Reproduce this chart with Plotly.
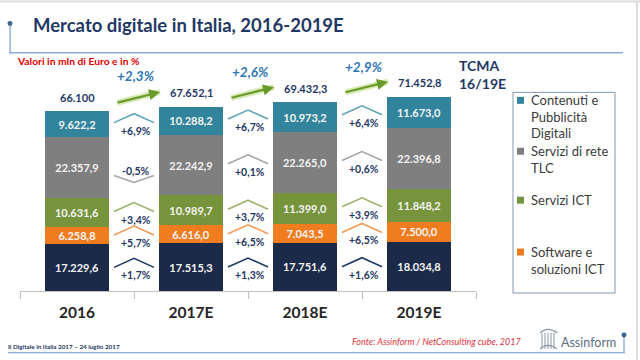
import plotly.graph_objects as go

# ---------------- data ----------------
years = ["2016", "2017E", "2018E", "2019E"]
dispositivi = [17229.6, 17515.3, 17751.6, 18034.8]
software = [6258.8, 6616.0, 7043.5, 7500.0]
servizi_ict = [10631.6, 10989.7, 11399.0, 11848.2]
servizi_tlc = [22357.9, 22242.9, 22265.0, 22396.8]
contenuti = [9622.2, 10288.2, 10973.2, 11673.0]
totals = [66100.0, 67652.1, 69432.3, 71452.8]
total_labels = ["66.100", "67.652,1", "69.432,3", "71.452,8"]
yoy_total = ["+2,3%", "+2,6%", "+2,9%"]
yoy_dispositivi = ["+1,7%", "+1,3%", "+1,6%"]
yoy_software = ["+5,7%", "+6,5%", "+6,5%"]
yoy_ict = ["+3,4%", "+3,7%", "+3,9%"]
yoy_tlc = ["-0,5%", "+0,1%", "+0,6%"]
yoy_contenuti = ["+6,9%", "+6,7%", "+6,4%"]
tcma_dispositivi = "+1,5%"
tcma_software = "+6,2%"
tcma_ict = "+3,7%"
tcma_tlc = "+0,1%"
tcma_contenuti = "+6,7%"
legend_lines = [["Contenuti e", "Pubblicità", "Digitali"], ["Servizi di rete", "TLC"],
                ["Servizi ICT"], ["Software e", "soluzioni ICT"]]

# ---------------- styling ----------------
FONT = "Lato"
NAVY_TXT = "#1F3864"
series = [  # bottom -> top
    dict(name="Dispositivi e sistemi", vals=dispositivi, color="#1B2A48", chev="#1F3864",
         yoy=yoy_dispositivi, tcma=tcma_dispositivi, tcol="#1F3864"),
    dict(name="Software e soluzioni ICT", vals=software, color="#EF7D1F", chev="#F29B55",
         yoy=yoy_software, tcma=tcma_software, tcol="#E46C0A"),
    dict(name="Servizi ICT", vals=servizi_ict, color="#77933C", chev="#9BB46A",
         yoy=yoy_ict, tcma=tcma_ict, tcol="#4F6228"),
    dict(name="Servizi di rete TLC", vals=servizi_tlc, color="#7F7F7F", chev="#A6A6A6",
         yoy=yoy_tlc, tcma=tcma_tlc, tcol="#8C8C8C"),
    dict(name="Contenuti e Pubblicità Digitali", vals=contenuti, color="#31849B", chev="#5FA5B8",
         yoy=yoy_contenuti, tcma=tcma_contenuti, tcol="#31859C"),
]

W, H = 640, 360
ML, MR, MB = 20, 164, 69
PXU = 218 / 80000          # pixels per data unit
YMAX = 100000
PH = YMAX * PXU
MT = H - MB - PH
PW = W - ML - MR
U = 1 / PXU                # data units per pixel (vertical)
CU = 4 / PW                # category units per pixel (horizontal)


def it(v):
    s = f"{v:,.1f}"
    return s.replace(",", "X").replace(".", ",").replace("X", ".")


def pxx(p):
    return (p - ML) / PW


def pxy(p):
    return (H - MB - p) / PH


xs = list(range(len(years)))
fig = go.Figure()

for s in series:
    fig.add_trace(go.Bar(
        x=xs, y=s["vals"], name=s["name"], marker=dict(color=s["color"], line=dict(width=0)),
        width=0.57, text=[it(v) for v in s["vals"]], textposition="inside",
        insidetextanchor="middle", textangle=0,
        textfont=dict(family=FONT, size=11, color="#F4F4F4", weight="bold"),
        hoverinfo="skip", showlegend=False))

# segment midpoints
cum = [0.0] * len(years)
for s in series:
    s["mid"] = [cum[i] + v / 2 for i, v in enumerate(s["vals"])]
    cum = [cum[i] + v for i, v in enumerate(s["vals"])]

annotations = []
# chevrons + yoy labels between bars
for g in range(len(years) - 1):
    gx = g + 0.5
    for s in series:
        mid = (s["mid"][g] + s["mid"][g + 1]) / 2
        lab = s["yoy"][g]
        hw = 20 * CU
        if lab.startswith("-"):
            ys_ = [mid - 9 * U, mid - 16 * U, mid - 9 * U]
            ly = mid - 4 * U
        else:
            ys_ = [mid + 0 * U, mid + 9 * U, mid + 0 * U]
            ly = mid - 8 * U
        fig.add_trace(go.Scatter(x=[gx - hw, gx, gx + hw], y=ys_, mode="lines",
                                 line=dict(color=s["chev"], width=1.6),
                                 hoverinfo="skip", showlegend=False))
        annotations.append(dict(x=gx + 0.02, y=ly, xref="x", yref="y", text=f"<b>{lab}</b>",
                                showarrow=False, font=dict(family=FONT, size=10.5, color=NAVY_TXT)))

# totals above bars
for i, t in enumerate(totals):
    annotations.append(dict(x=i, y=t, xref="x", yref="y", text=f"<b>{total_labels[i]}</b>",
                            showarrow=False, yshift=14,
                            font=dict(family=FONT, size=11, color=NAVY_TXT)))

# growth arrows
for g in range(len(years) - 1):
    hx = g + 0.5 + 26 * CU
    hy = totals[g + 1] + 15 * U
    for col, wd, head in [("rgba(170,210,90,0.45)", 6, 0), ("#6A9A2A", 2.2, 2)]:
        annotations.append(dict(x=hx, y=hy, xref="x", yref="y", ax=-44, ay=11, text="",
                                showarrow=True, arrowhead=head, arrowsize=1,
                                arrowwidth=wd, arrowcolor=col, standoff=0))
    annotations.append(dict(x=g + 0.52, y=totals[g] + 35.5 * U, xref="x", yref="y",
                            text=f"<b><i>{yoy_total[g]}</i></b>", showarrow=False,
                            borderpad=0,
                            font=dict(family=FONT, size=13.5, color="#2E75B6")))

# TCMA column
annotations.append(dict(x=pxx(457), y=pxy(74), xref="paper", yref="paper", xanchor="left",
                        yanchor="middle", align="left", text="<b>TCMA<br>16/19E</b>",
                        showarrow=False, font=dict(family=FONT, size=14, color=NAVY_TXT)))
for s in series:
    annotations.append(dict(x=3.54, y=s["mid"][-1], xref="x", yref="y",
                            text=f"<b>{s['tcma']}</b>", showarrow=False,
                            font=dict(family=FONT, size=13, color=s["tcol"])))

# manual legend
shapes = []
shapes.append(dict(type="rect", xref="paper", yref="paper", x0=pxx(513), x1=pxx(615),
                   y0=pxy(293), y1=pxy(92), line=dict(color="#8497B0", width=1),
                   fillcolor="rgba(0,0,0,0)"))
leg_series = [series[4], series[3], series[2], series[1]]
leg_y = [100, 151, 200, 252]
for s, lines, yy in zip(leg_series, legend_lines, leg_y):
    shapes.append(dict(type="rect", xref="paper", yref="paper", x0=pxx(517), x1=pxx(524),
                       y0=pxy(yy + 3.5), y1=pxy(yy - 3.5), line=dict(width=0),
                       fillcolor=s["color"]))
    for k, ln in enumerate(lines):
        annotations.append(dict(x=pxx(529), y=pxy(yy + 16.5 * k), xref="paper", yref="paper",
                                xanchor="left", yanchor="middle", align="left", text=ln,
                                showarrow=False,
                                font=dict(family=FONT, size=13, color="#3B3B3B")))

# title & decorations
annotations.append(dict(x=pxx(31), y=pxy(25), xref="paper", yref="paper", xanchor="left",
                        yanchor="middle", text="<b>Mercato digitale in Italia, 2016-2019E</b>",
                        showarrow=False, font=dict(family=FONT, size=18.5, color=NAVY_TXT)))
annotations.append(dict(x=pxx(16), y=pxy(61), xref="paper", yref="paper", xanchor="left",
                        yanchor="middle", text="<b>Valori in mln di Euro e in %</b>",
                        showarrow=False, borderpad=0,
                        font=dict(family=FONT, size=10.3, color="#E00000")))
annotations.append(dict(x=pxx(6), y=pxy(347), xref="paper", yref="paper", xanchor="left",
                        yanchor="middle", text="<b>Il Digitale in Italia 2017 – 24 luglio 2017</b>",
                        showarrow=False, font=dict(family=FONT, size=6.3, color=NAVY_TXT)))
annotations.append(dict(x=pxx(523), y=pxy(342), xref="paper", yref="paper", xanchor="right",
                        yanchor="middle", text="<i>Fonte: Assinform / NetConsulting cube, 2017</i>",
                        showarrow=False, font=dict(family=FONT, size=9, color="#E0323C")))
annotations.append(dict(x=pxx(559), y=pxy(343), xref="paper", yref="paper", xanchor="left",
                        yanchor="middle", text="Assinform",
                        showarrow=False, font=dict(family=FONT, size=12.5, color="#5B6F82")))

LINE = "#8EAADB"
# decorative bracket lines drawn as thin filled rects (x0, y0, x1, y1 in pixels)
deco = [
    (9.4, 23, 10.8, 53), (9.4, 51.6, 623, 53),
    (8, 352, 624.7, 353.4), (623.3, 336, 624.7, 353.4),
]
for x0, y0, x1, y1 in deco:
    shapes.append(dict(type="rect", xref="paper", yref="paper", x0=pxx(x0), y0=pxy(y1),
                       x1=pxx(x1), y1=pxy(y0), fillcolor=LINE, line=dict(width=0)))
for cx, cy in [(10, 23), (624, 335)]:
    shapes.append(dict(type="circle", xref="paper", yref="paper", x0=pxx(cx - 2.5),
                       x1=pxx(cx + 2.5), y0=pxy(cy + 2.5), y1=pxy(cy - 2.5),
                       fillcolor="#3E6690", line=dict(width=0)))
# slide border
shapes.append(dict(type="rect", xref="paper", yref="paper", x0=pxx(0), x1=pxx(640),
                   y0=pxy(2), y1=pxy(0), fillcolor="#DCDCDC", line=dict(width=0)))
shapes.append(dict(type="rect", xref="paper", yref="paper", x0=pxx(636), x1=pxx(638),
                   y0=pxy(360), y1=pxy(0), fillcolor="#DCDCDC", line=dict(width=0)))

# simple Assinform logo mark (decoration)
LOGO = "#8A96A3"
for lx in [542, 545, 548, 551, 554]:
    shapes.append(dict(type="line", xref="paper", yref="paper", x0=pxx(lx), x1=pxx(lx),
                       y0=pxy(349), y1=pxy(333), line=dict(color=LOGO, width=1)))
shapes.append(dict(type="path", xref="paper", yref="paper",
                   path=f"M {pxx(540)},{pxy(333)} Q {pxx(548)},{pxy(326)} {pxx(557)},{pxy(333)}",
                   line=dict(color=LOGO, width=1.2)))
shapes.append(dict(type="path", xref="paper", yref="paper",
                   path=f"M {pxx(540)},{pxy(349)} Q {pxx(548)},{pxy(342)} {pxx(557)},{pxy(349)}",
                   line=dict(color=LOGO, width=1.2)))

fig.update_layout(
    width=W, height=H, margin=dict(l=ML, r=MR, t=MT, b=MB, autoexpand=False),
    barmode="stack", plot_bgcolor="white", paper_bgcolor="white",
    uniformtext=dict(minsize=11, mode="show"),
    annotations=annotations, shapes=shapes, showlegend=False,
    xaxis=dict(range=[-0.5, 3.5], tickmode="array", tickvals=xs, ticktext=years,
               ticks="", showgrid=False, zeroline=False, showline=True,
               linecolor="#BFBFBF", linewidth=1, ticklabelstandoff=7,
               tickfont=dict(family=FONT, size=15.5, color="#262626", weight="bold"),
               minor=dict(tickmode="array", tickvals=[-0.5, 0.5, 1.5, 2.5, 3.5],
                          ticks="outside", ticklen=7, tickcolor="#BFBFBF", tickwidth=1,
                          showgrid=False),
               fixedrange=True),
    yaxis=dict(range=[0, YMAX], visible=False, fixedrange=True),
)

fig.write_html("out.html", config={"displayModeBar": False},
               post_script="document.body.style.margin='0px';"
                           "document.body.style.overflow='hidden';")
